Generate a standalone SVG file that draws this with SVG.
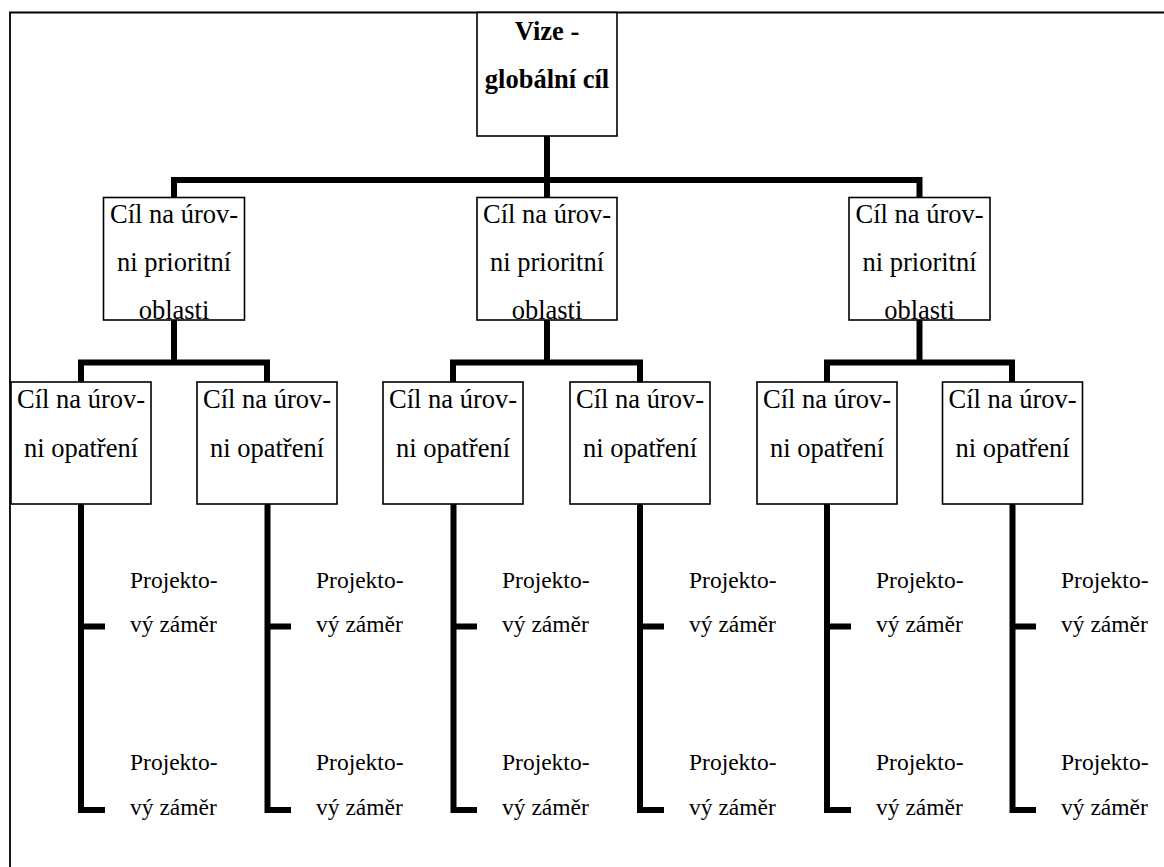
<svg xmlns="http://www.w3.org/2000/svg" width="1164" height="867" viewBox="0 0 1164 867">
<style>
.box{fill:#fff;stroke:#000;stroke-width:1.6}
.conn{fill:none;stroke:#000;stroke-width:6;stroke-linejoin:miter;stroke-linecap:butt}
.t{font-family:"Liberation Serif","Times New Roman",serif;font-size:26.5px;fill:#000;text-anchor:middle}
.b{font-weight:bold}
.p{font-family:"Liberation Serif","Times New Roman",serif;font-size:23.5px;fill:#000}
</style>
<rect width="1164" height="867" fill="#fff"/>
<path d="M10,867 V12.5 H1164" fill="none" stroke="#000" stroke-width="1.8"/>
<g id="connectors">
<path class="conn" d="M547,136 V180"/>
<path class="conn" d="M174,197 V180 H919.5 V197"/>
<path class="conn" d="M547,180 V197"/>
<path class="conn" d="M174,320 V362.5"/>
<path class="conn" d="M81,382 V362.5 H267 V382"/>
<path class="conn" d="M547,320 V362.5"/>
<path class="conn" d="M453,382 V362.5 H640 V382"/>
<path class="conn" d="M919.5,320 V362.5"/>
<path class="conn" d="M827,382 V362.5 H1012 V382"/>
<path class="conn" d="M81,504 V810 H105 M81,626.5 H105"/>
<path class="conn" d="M267.5,504 V810 H291 M267.5,626.5 H291"/>
<path class="conn" d="M453.5,504 V810 H477 M453.5,626.5 H477"/>
<path class="conn" d="M640,504 V810 H664 M640,626.5 H664"/>
<path class="conn" d="M827,504 V810 H851 M827,626.5 H851"/>
<path class="conn" d="M1012.5,504 V810 H1036 M1012.5,626.5 H1036"/>
</g>
<g id="vize">
<rect class="box" x="477" y="12.5" width="140" height="123.5"/>
<text class="t b" x="547" y="40">Vize -</text>
<text class="t b" x="547" y="88">globální cíl</text>
</g>
<g id="prio1">
<rect class="box" x="103.5" y="197.5" width="141" height="122.5"/>
<text class="t" x="174" y="223">Cíl na úrov-</text>
<text class="t" x="174" y="271">ni prioritní</text>
<text class="t" x="174" y="318.5">oblasti</text>
</g>
<g id="prio2">
<rect class="box" x="477" y="197.5" width="140" height="122.5"/>
<text class="t" x="547" y="223">Cíl na úrov-</text>
<text class="t" x="547" y="271">ni prioritní</text>
<text class="t" x="547" y="318.5">oblasti</text>
</g>
<g id="prio3">
<rect class="box" x="849" y="197.5" width="141" height="122.5"/>
<text class="t" x="919.5" y="223">Cíl na úrov-</text>
<text class="t" x="919.5" y="271">ni prioritní</text>
<text class="t" x="919.5" y="318.5">oblasti</text>
</g>
<g id="opat1">
<rect class="box" x="11" y="382" width="140" height="122"/>
<text class="t" x="81" y="408">Cíl na úrov-</text>
<text class="t" x="81" y="456.5">ni opatření</text>
</g>
<g id="opat2">
<rect class="box" x="197" y="382" width="140" height="122"/>
<text class="t" x="267" y="408">Cíl na úrov-</text>
<text class="t" x="267" y="456.5">ni opatření</text>
</g>
<g id="opat3">
<rect class="box" x="383" y="382" width="140" height="122"/>
<text class="t" x="453" y="408">Cíl na úrov-</text>
<text class="t" x="453" y="456.5">ni opatření</text>
</g>
<g id="opat4">
<rect class="box" x="570" y="382" width="140" height="122"/>
<text class="t" x="640" y="408">Cíl na úrov-</text>
<text class="t" x="640" y="456.5">ni opatření</text>
</g>
<g id="opat5">
<rect class="box" x="757" y="382" width="140" height="122"/>
<text class="t" x="827" y="408">Cíl na úrov-</text>
<text class="t" x="827" y="456.5">ni opatření</text>
</g>
<g id="opat6">
<rect class="box" x="942.5" y="382" width="140" height="122"/>
<text class="t" x="1012.5" y="408">Cíl na úrov-</text>
<text class="t" x="1012.5" y="456.5">ni opatření</text>
</g>
<g id="projects">
<g id="pz1a"><text class="p" x="130" y="588">Projekto-</text><text class="p" x="130" y="631.5">vý záměr</text></g>
<g id="pz1b"><text class="p" x="130" y="770">Projekto-</text><text class="p" x="130" y="815">vý záměr</text></g>
<g id="pz2a"><text class="p" x="316" y="588">Projekto-</text><text class="p" x="316" y="631.5">vý záměr</text></g>
<g id="pz2b"><text class="p" x="316" y="770">Projekto-</text><text class="p" x="316" y="815">vý záměr</text></g>
<g id="pz3a"><text class="p" x="502" y="588">Projekto-</text><text class="p" x="502" y="631.5">vý záměr</text></g>
<g id="pz3b"><text class="p" x="502" y="770">Projekto-</text><text class="p" x="502" y="815">vý záměr</text></g>
<g id="pz4a"><text class="p" x="689" y="588">Projekto-</text><text class="p" x="689" y="631.5">vý záměr</text></g>
<g id="pz4b"><text class="p" x="689" y="770">Projekto-</text><text class="p" x="689" y="815">vý záměr</text></g>
<g id="pz5a"><text class="p" x="876" y="588">Projekto-</text><text class="p" x="876" y="631.5">vý záměr</text></g>
<g id="pz5b"><text class="p" x="876" y="770">Projekto-</text><text class="p" x="876" y="815">vý záměr</text></g>
<g id="pz6a"><text class="p" x="1061" y="588">Projekto-</text><text class="p" x="1061" y="631.5">vý záměr</text></g>
<g id="pz6b"><text class="p" x="1061" y="770">Projekto-</text><text class="p" x="1061" y="815">vý záměr</text></g>
</g>
</svg>
